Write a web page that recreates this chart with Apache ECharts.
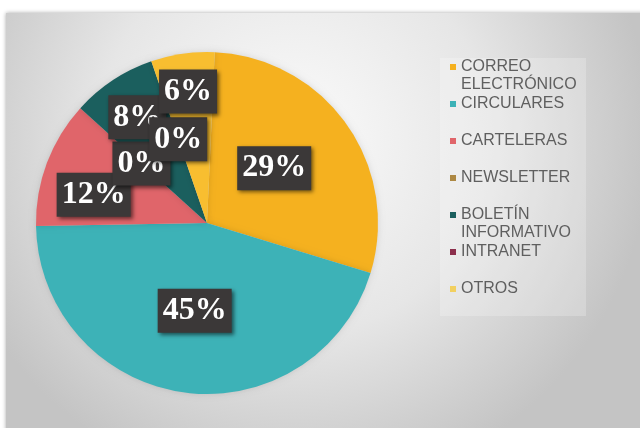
<!DOCTYPE html>
<html>
<head>
<meta charset="utf-8">
<script src="https://cdn.jsdelivr.net/npm/echarts@6/dist/echarts.min.js"></script>
<style>
html,body{margin:0;padding:0;background:#ffffff;}
#chart{width:640px;height:428px;}
</style>
</head>
<body>
<div id="chart"></div>
<script>
// ---- data ----
var categories = ['CORREO ELECTRÓNICO', 'CIRCULARES', 'CARTELERAS', 'NEWSLETTER', 'BOLETÍN INFORMATIVO', 'INTRANET', 'OTROS'];
var legendLabels = ['CORREO\nELECTRÓNICO', 'CIRCULARES', 'CARTELERAS', 'NEWSLETTER', 'BOLETÍN\nINFORMATIVO', 'INTRANET', 'OTROS'];
var values = [29, 45, 12, 0, 8, 0, 6];

// ---- style ----
var colors = ['#F5B11F', '#3DB2B7', '#E0656A', '#AD8843', '#1B5F5E', '#8C2F4C', '#F8BE30'];
var markerColors = ['#F5B11F', '#3DB2B7', '#E0656A', '#AD8843', '#1B5F5E', '#8C2F4C', '#F2D060'];
var labelRadialFactor = [0.98, 1, 1.32, 1, 1.43, 1, 1.5];
var labelAngleShift = [-4, 0, -6.6, 0, 0, 0, 0];
var pieCenter = [207, 223];
var pieRadius = 171;

var chart = echarts.init(document.getElementById('chart'), null, {renderer: 'canvas'});

var legends = [];
var lineH = 18;
for (var i = 0; i < categories.length; i++) {
  var lines = legendLabels[i].split('\n').length;
  var block = (2 * lines - 1) * lineH;
  var markerY = 67 + 37 * i;
  (function (idx, n) {
    var prefix = '';
    for (var k = 1; k < n; k++) prefix += ' \n';
    legends.push({
      data: [{name: categories[idx], itemStyle: {color: markerColors[idx]}}],
      left: 450,
      top: markerY - block / 2,
      padding: 0,
      orient: 'vertical',
      icon: 'rect',
      itemWidth: 6,
      itemHeight: 6,
      selectedMode: false,
      formatter: function () { return prefix + legendLabels[idx]; },
      textStyle: {
        fontFamily: 'Liberation Sans',
        fontSize: 16,
        color: '#5f5f5f',
        lineHeight: lineH
      }
    });
  })(i, lines);
}

var option = {
  animation: false,
  backgroundColor: '#ffffff',
  color: colors,
  graphic: [
    {
      type: 'rect',
      z: -10,
      silent: true,
      shape: {x: 6, y: 13, width: 640, height: 420},
      style: {
        fill: {
          type: 'radial', x: 0.45, y: 0.3, r: 0.85,
          colorStops: [
            {offset: 0, color: '#fbfbfb'},
            {offset: 0.55, color: '#e6e6e6'},
            {offset: 1, color: '#c4c4c4'}
          ]
        },
        shadowBlur: 4,
        shadowColor: 'rgba(0,0,0,0.35)',
        shadowOffsetX: 0,
        shadowOffsetY: 0
      }
    },
    {
      type: 'rect',
      z: -9,
      silent: true,
      shape: {x: 440, y: 58, width: 146, height: 258},
      style: {fill: 'rgba(255,255,255,0.22)'}
    }
  ],
  legend: legends,
  series: [{
    type: 'pie',
    center: pieCenter,
    radius: pieRadius,
    startAngle: 87.4,
    clockwise: true,
    avoidLabelOverlap: false,
    minShowLabelAngle: 0,
    itemStyle: {
      shadowBlur: 6,
      shadowColor: 'rgba(0,0,0,0.12)'
    },
    label: {
      show: true,
      position: 'inside',
      formatter: function (p) { return p.value + '%'; },
      fontFamily: 'Liberation Serif',
      fontWeight: 'bold',
      fontSize: 32,
      lineHeight: 32,
      color: '#ffffff',
      backgroundColor: '#3b3838',
      padding: [7, 5, 5, 5],
      shadowBlur: 4,
      shadowColor: 'rgba(0,0,0,0.55)',
      shadowOffsetX: 2,
      shadowOffsetY: 2
    },
    labelLine: {show: false},
    emphasis: {disabled: true},
    labelLayout: function (params) {
      var r = params.labelRect;
      var idx = params.dataIndex;
      var f = labelRadialFactor[idx];
      var d = labelAngleShift[idx] * Math.PI / 180;
      var cx = r.x + r.width / 2;
      var cy = r.y + r.height / 2;
      var vx = cx - pieCenter[0], vy = cy - pieCenter[1];
      var nx = (vx * Math.cos(d) - vy * Math.sin(d)) * f;
      var ny = (vx * Math.sin(d) + vy * Math.cos(d)) * f;
      return {dx: nx - vx, dy: ny - vy};
    },
    data: categories.map(function (c, i) { return {name: c, value: values[i]}; })
  }]
};
chart.setOption(option);
</script>
</body>
</html>
